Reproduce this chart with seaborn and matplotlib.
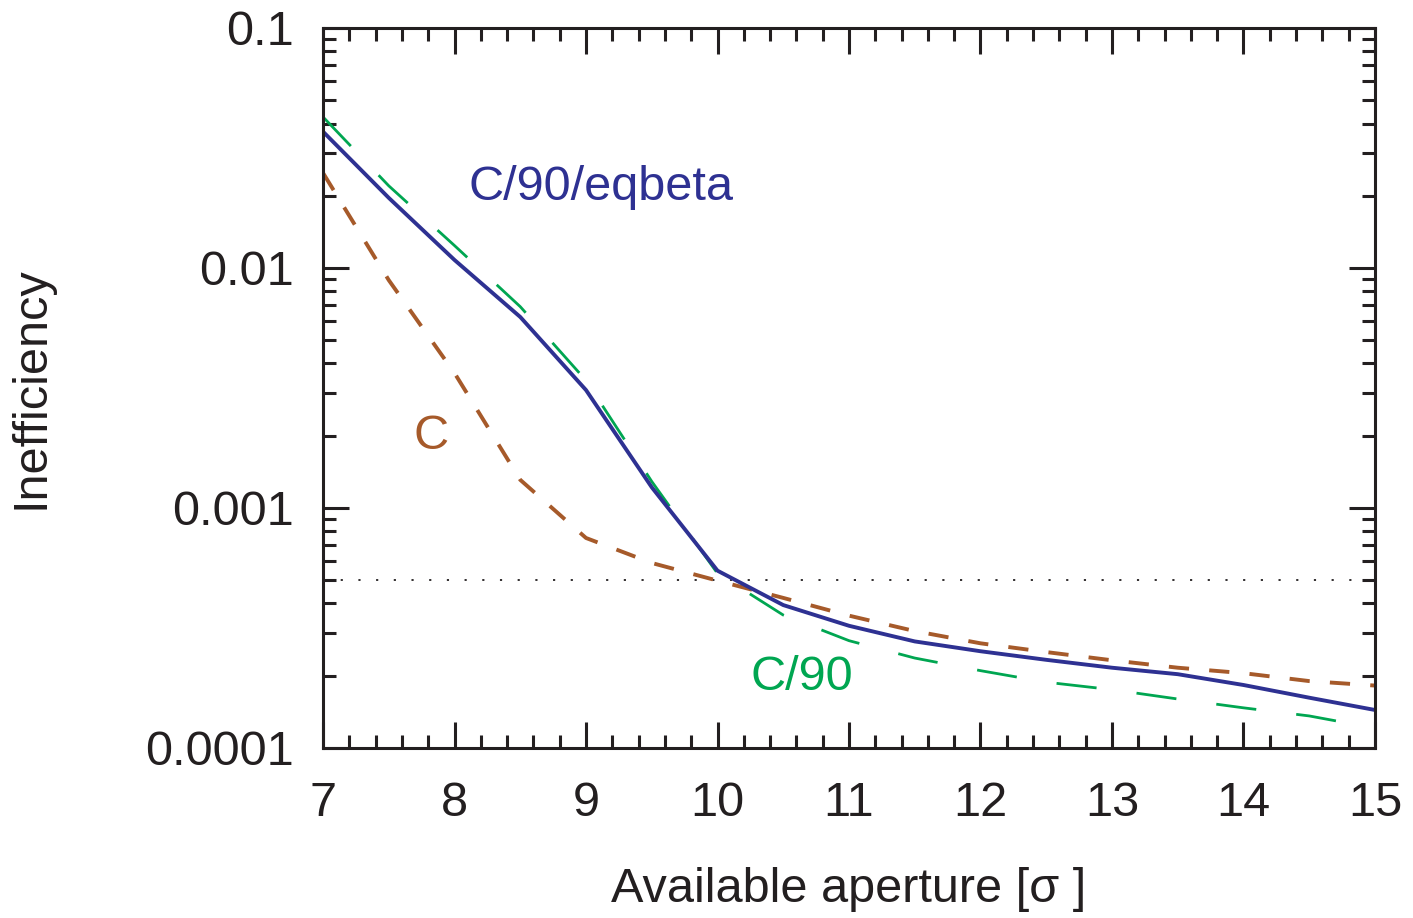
import matplotlib
matplotlib.use("Agg")
import matplotlib.pyplot as plt
import seaborn as sns
import pandas as pd
from matplotlib.ticker import FixedLocator, FixedFormatter, MultipleLocator, LogLocator, NullFormatter

# data: inefficiency vs available aperture
aperture = [7, 7.5, 8, 8.5, 9, 9.5, 10, 10.5, 11, 11.5, 12, 12.5, 13, 13.5, 14, 14.5, 15]
eqbeta = [0.037, 0.0196, 0.0108, 0.00625, 0.0031, 0.00122, 0.000548, 0.000394, 0.000323,
          0.000278, 0.000253, 0.000233, 0.000216, 0.000203, 0.000183, 0.000162, 0.000144]
c_only = [0.0249, 0.0089, 0.00365, 0.00131, 0.00075, 0.00059, 0.000498, 0.000422, 0.000356,
          0.000307, 0.000273, 0.000251, 0.000232, 0.000216, 0.000205, 0.00019, 0.000182]
c90 = [0.0426, 0.022, 0.0124, 0.0069, 0.0034, 0.00129, 0.000534, 0.000358, 0.00028,
       0.000237, 0.00021, 0.000188, 0.000175, 0.00016, 0.000147, 0.000136, 0.000121]
target = 0.0005

y_ticks = [0.1, 0.01, 0.001, 0.0001]
y_labels = ['0.1', '0.01', '0.001', '0.0001']
x_ticks = list(range(7, 16))

df = pd.DataFrame({'aperture': aperture, 'C/90/eqbeta': eqbeta, 'C': c_only, 'C/90': c90})

sns.set_style("ticks")
plt.rcParams['font.family'] = ['Liberation Sans', 'DejaVu Sans']

fig = plt.figure(figsize=(14.13, 9.18), dpi=100)
ax = fig.add_axes([0.2286, 0.1852, 0.7445, 0.7843])

blue = '#2E3192'
brown = '#A65A2A'
green = '#00A651'
ink = '#231F20'

ax.axhline(target, color=ink, lw=1.3, linestyle=(0, (1.2, 8.6)))
sns.lineplot(data=df, x='aperture', y='C', color=brown, lw=2.8,
             linestyle=(0, (5.2, 5.2)), ax=ax)
sns.lineplot(data=df, x='aperture', y='C/90', color=green, lw=2.0,
             linestyle=(0, (14.5, 14.5)), ax=ax)
sns.lineplot(data=df, x='aperture', y='C/90/eqbeta', color=blue, lw=2.8, ax=ax)

ax.set_yscale('log')
ax.set_xlim(7, 15)
ax.set_ylim(1e-4, 0.1)

ax.yaxis.set_major_locator(FixedLocator(y_ticks))
ax.yaxis.set_major_formatter(FixedFormatter(y_labels))
ax.yaxis.set_minor_locator(LogLocator(base=10, subs=range(2, 10)))
ax.yaxis.set_minor_formatter(NullFormatter())
ax.xaxis.set_major_locator(FixedLocator(x_ticks))
ax.xaxis.set_minor_locator(MultipleLocator(0.2))

ax.tick_params(which='both', direction='in', top=True, right=True, width=2.2,
               color=ink, labelsize=35, labelcolor=ink)
ax.tick_params(which='major', length=18.5, pad=21)
ax.tick_params(which='minor', length=9.5)
ax.tick_params(axis='x', which='major', pad=24)
for s in ax.spines.values():
    s.set_linewidth(2.2)
    s.set_color(ink)

ax.set_xlabel('Available aperture [σ ]', fontsize=35, color=ink, labelpad=29)
ax.set_ylabel('Inefficiency', fontsize=35, color=ink, labelpad=66)

ax.text(9.114, 0.0216, 'C/90/eqbeta', color=blue, fontsize=35, ha='center', va='center')
ax.text(7.82, 0.00198, 'C', color=brown, fontsize=35, ha='center', va='center')
ax.text(10.64, 0.000196, 'C/90', color=green, fontsize=35, ha='center', va='center')

fig.savefig('out.png', dpi=100)
